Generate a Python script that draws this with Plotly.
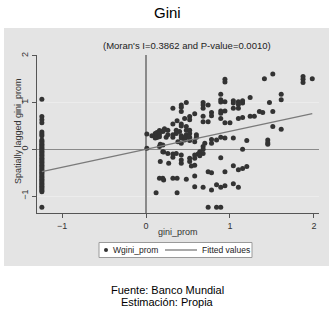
import plotly.graph_objects as go

# ---- data ----
left_x = -1.24
left_y = [1.07, 0.70, 0.63, 0.57, 0.37, 0.33, 0.29, 0.20, 0.17, 0.14, 0.11, 0.08,
          0.05, 0.02, -0.01, -0.04, -0.07, -0.10, -0.13, -0.16, -0.19, -0.22, -0.25,
          -0.28, -0.31, -0.34, -0.37, -0.40, -0.43, -0.46, -0.49, -0.52, -0.55, -0.58,
          -0.61, -0.64, -0.67, -0.70, -0.73, -0.76, -0.79, -0.82, -0.85, -0.88, -0.91, -1.24]

right_x = [1.51, 1.41, 1.87, 1.87, 1.87, 1.98, 0.94, 0.94, 0.89, 1.24, 1.61, 1.61,
           0.89, 0.89, 0.94, 1.04, 1.04, 1.10, 1.10, 1.15, 1.15, 1.47, 0.68, 0.68,
           0.74, 0.48, 0.42, 0.42, 0.32, 0.68, 1.04, 1.10, 0.89, 0.94, 0.89, 0.78,
           0.78, 0.58, 0.42, 0.68, 1.35, 1.39, 1.51, 1.24, 1.29, 1.10, 1.15, 0.94,
           1.00, 0.89, 0.52, 0.52, 0.46, 0.37, 0.32, 0.68, 0.74, 0.42, 0.42, 0.48,
           1.51, 1.61, 0.22, 0.26, 0.20, 0.36, 0.36, 0.40, 0.48, 0.48, 0.48, 0.52,
           0.52, 0.52, 0.52, 0.42, 0.42, 0.46, 0.46, 0.60, 0.60, 0.32, 0.32, 0.24,
           0.26, 0.38, 0.42, 0.58, 0.78, 0.84, 0.78, 0.89, 0.94, 1.04, 1.20, 1.45,
           1.45, 1.45, 0.16, 0.20, 0.68, 0.68, 0.64, 0.68, 0.70, 0.62, 0.64, 1.15,
           0.20, 0.26, 0.32, 0.32, 0.36, 0.42, 0.42, 0.42, 0.52, 0.52, 0.58, 0.58,
           0.58, 0.54, 0.74, 0.78, 0.89, 0.94, 1.04, 1.10, 1.15, 1.20, 0.20, 0.16,
           0.32, 0.37, 0.48, 0.58, 0.37, 0.58, 0.68, 0.78, 0.84, 0.89, 0.94, 1.04,
           1.10, 0.74, 0.84, 0.89,
           0.01, 0.01, 0.07, 0.11, 0.11, 0.11, 0.13, 0.13, 0.13, 0.16, 0.16, 0.16,
           0.21, 0.17, 0.21, 0.17, 0.27, 0.21, 0.12]
right_y = [1.61, 1.51, 1.56, 1.50, 1.43, 1.51, 1.50, 1.44, 1.18, 1.11, 1.18, 1.06,
           1.06, 1.01, 1.02, 1.04, 0.99, 1.02, 0.96, 1.04, 0.99, 1.00, 1.00, 0.95,
           0.95, 1.00, 0.95, 0.90, 0.88, 0.88, 0.88, 0.88, 0.82, 0.82, 0.77, 0.79,
           0.72, 0.76, 0.81, 0.71, 0.81, 0.79, 0.81, 0.71, 0.71, 0.66, 0.68, 0.57,
           0.57, 0.66, 0.70, 0.63, 0.66, 0.61, 0.54, 0.59, 0.59, 0.54, 0.50, 0.49,
           0.49, 0.43, 0.44, 0.41, 0.38, 0.41, 0.34, 0.38, 0.41, 0.31, 0.26, 0.41,
           0.34, 0.26, 0.19, 0.29, 0.24, 0.26, 0.20, 0.31, 0.26, 0.31, 0.26, 0.26,
           0.31, 0.16, 0.13, 0.16, 0.21, 0.20, 0.13, 0.26, 0.24, 0.24, 0.19, 0.20,
           0.14, 0.11, 0.06, 0.09, 0.06, 0.00, -0.05, -0.09, 0.13, -0.10, -0.14, 0.00,
           -0.05, -0.09, -0.10, -0.17, -0.09, -0.12, -0.23, -0.30, -0.19, -0.26, -0.12, -0.19,
           -0.34, -0.36, -0.48, -0.50, -0.18, -0.48, -0.35, -0.44, -0.41, -0.37, -0.62, -0.62,
           -0.62, -0.62, -0.64, -0.57, -0.93, -0.80, -0.81, -0.87, -0.76, -0.81, -0.78, -0.74,
           -0.81, -1.24, -1.24, -1.24,
           0.33, 0.02, 0.29, 0.34, 0.29, 0.24, 0.36, 0.30, 0.25, 0.40, 0.33, 0.27,
           0.41, 0.11, -0.06, -0.26, -0.30, -0.66, -0.93]

pts_x = [left_x] * len(left_y) + right_x
pts_y = left_y + right_y

moran_i = 0.3862
fit_x = [-1.24, 1.98]
fit_y = [moran_i * v for v in fit_x]

x_ticks = [-1, 0, 1, 2]
y_ticks = [-1, 0, 1, 2]

title = "Gini"
subtitle = "(Moran's I=0.3862 and P-value=0.0010)"
x_title = "gini_prom"
y_title = "Spatially lagged gini_prom"
series_names = ["Wgini_prom", "Fitted values"]
footer = ["Fuente: Banco Mundial", "Estimación: Propia"]

# ---- layout helpers (pixel -> paper) ----
W, H = 335, 316
L, R, T, B = 37, 319, 55, 213
def px(p):
    return (p - L) / (R - L)
def py(p):
    return (B - p) / (B - T)

FONT = "Liberation Sans, Arial, sans-serif"
DOT = "#333333"
FIT = "#7a7a7a"

fig = go.Figure()
fig.add_trace(go.Scatter(
    x=pts_x, y=pts_y, mode="markers", name=series_names[0],
    marker=dict(color=DOT, size=5, line=dict(width=0)),
))
fig.add_trace(go.Scatter(
    x=fit_x, y=fit_y, mode="lines", name=series_names[1],
    line=dict(color=FIT, width=1.3),
))

shapes = [
    # gray graph region
    dict(type="rect", xref="paper", yref="paper",
         x0=px(4), x1=px(329), y0=py(266), y1=py(28),
         fillcolor="#e4e4e4", line=dict(width=0), layer="below"),
    # legend box
    dict(type="rect", xref="paper", yref="paper",
         x0=px(99), x1=px(252), y0=py(257.5), y1=py(242.5),
         fillcolor="white", line=dict(color="#9a9a9a", width=1)),
    # legend dot symbol
    dict(type="circle", xref="paper", yref="paper",
         x0=px(104), x1=px(108), y0=py(252), y1=py(248),
         fillcolor=DOT, line=dict(width=0)),
    # legend line symbol
    dict(type="line", xref="paper", yref="paper",
         x0=px(165), x1=px(197), y0=py(250), y1=py(250),
         line=dict(color=FIT, width=1.3)),
]

def ann(text, x, y, size, color="#333", anchor="center", angle=0):
    return dict(text=text, x=px(x), y=py(y), xref="paper", yref="paper",
                showarrow=False, textangle=angle,
                font=dict(size=size, color=color, family=FONT),
                xanchor=anchor, yanchor="middle")

annotations = [
    ann(title, 167, 13, 15, "#000"),
    ann(subtitle, 187, 45, 9.5, "#222"),
    ann(x_title, 178, 232, 9),
    ann(y_title, 18, 131, 9, angle=-90),
    ann(series_names[0], 111, 250, 8.5, "#222", "left"),
    ann(series_names[1], 200, 250, 8.5, "#222", "left"),
    ann(footer[0], 167, 290, 11, "#000"),
    ann(footer[1], 167, 302, 11, "#000"),
]

fig.update_layout(
    width=W, height=H,
    margin=dict(l=L, r=W - R, t=T, b=H - B, pad=0),
    paper_bgcolor="white", plot_bgcolor="white",
    showlegend=False,
    shapes=shapes, annotations=annotations,
    xaxis=dict(range=[-1.298, 2.06], tickvals=x_ticks, ticks="outside", ticklen=4,
               tickcolor="#555", showline=True, linecolor="#555", linewidth=1,
               showgrid=False, zeroline=True, zerolinecolor="#8a8a8a", zerolinewidth=1.5,
               automargin=False,
               tickfont=dict(size=9, color="#333", family=FONT)),
    yaxis=dict(range=[-1.364, 2.019], tickvals=y_ticks, ticks="outside", ticklen=4,
               tickcolor="#555", showline=True, linecolor="#555", linewidth=1,
               showgrid=True, gridcolor="#ececec", gridwidth=1,
               zeroline=True, zerolinecolor="#8a8a8a", zerolinewidth=1.5,
               tickangle=-90, automargin=False,
               tickfont=dict(size=9, color="#333", family=FONT)),
)

fig.write_html("out.html",
               config={"displayModeBar": False, "staticPlot": True},
               post_script="document.body.style.margin='0px';document.body.style.padding='0px';")
